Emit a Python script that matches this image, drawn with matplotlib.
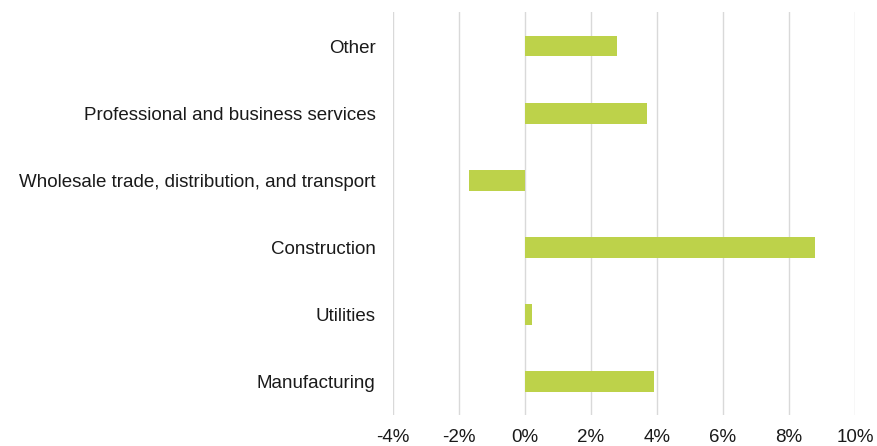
import matplotlib.pyplot as plt
from matplotlib.ticker import FuncFormatter

plt.rcParams['font.family'] = ['Liberation Sans', 'DejaVu Sans']

# data (top to bottom as shown)
categories = ['Other', 'Professional and business services',
              'Wholesale trade, distribution, and transport',
              'Construction', 'Utilities', 'Manufacturing']
values = [2.8, 3.7, -1.7, 8.8, 0.2, 3.9]
xticks = [-4, -2, 0, 2, 4, 6, 8, 10]

fig = plt.figure(figsize=(8.78, 4.46), dpi=100)
ax = fig.add_axes([0.4476, 0.0684, 0.5262, 0.9036])

ypos = list(range(len(categories)))[::-1]
ax.barh(ypos, values, height=0.31, color='#bdd24a', zorder=3)

ax.set_xlim(-4, 10)
ax.set_ylim(-0.5, len(categories) - 0.5)
ax.set_xticks(xticks)
ax.xaxis.set_major_formatter(FuncFormatter(lambda v, p: f'{v:.0f}%'))
ax.set_yticks(ypos)
ax.set_yticklabels(categories)

ax.grid(axis='x', color='#d9d9d9', linewidth=1, zorder=0)
for s in ax.spines.values():
    s.set_visible(False)
ax.tick_params(axis='both', length=0, labelsize=13.5, colors='#1a1a1a')
ax.tick_params(axis='y', pad=12.5)
ax.tick_params(axis='x', pad=10)

fig.savefig('out.png', dpi=100)
